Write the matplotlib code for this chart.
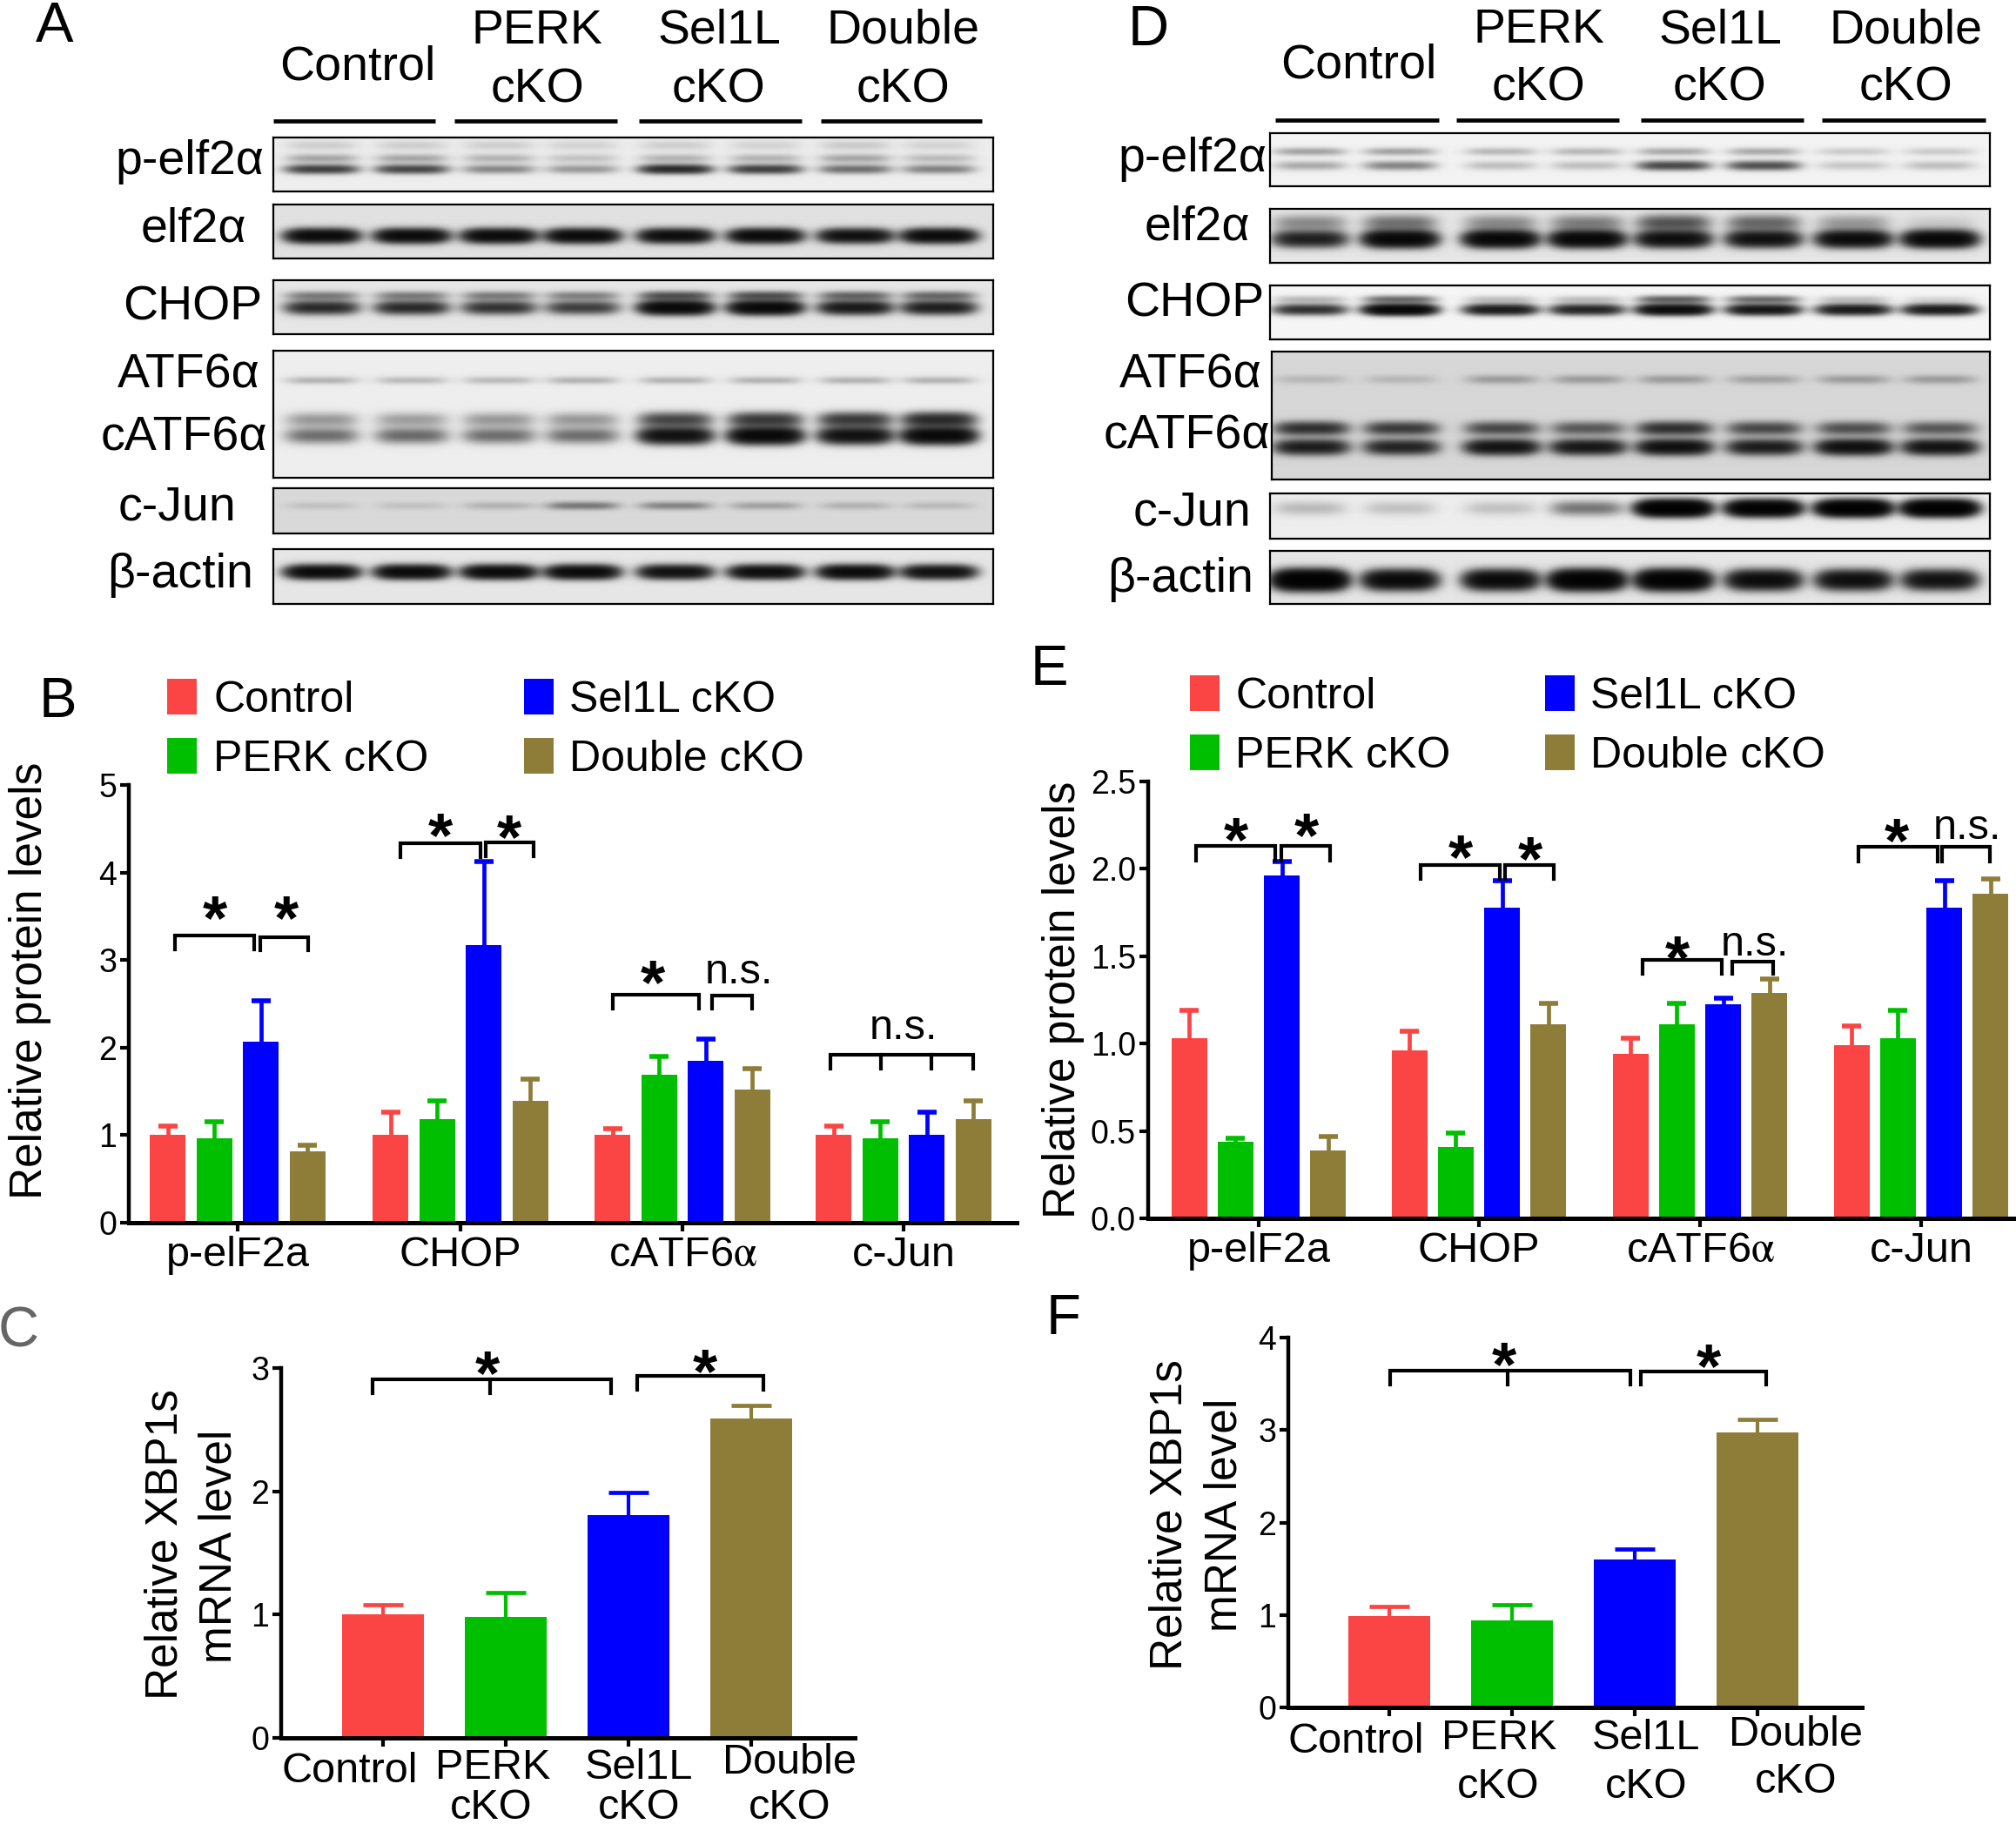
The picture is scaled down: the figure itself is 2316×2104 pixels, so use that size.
import numpy as np
import matplotlib
matplotlib.use('Agg')
import matplotlib.pyplot as plt
from matplotlib.patches import Rectangle

plt.rcParams['font.family'] = ['Liberation Sans', 'DejaVu Sans']
plt.rcParams['mathtext.fontset'] = 'stix'

W, H = 2316, 2104

# Bar data
genotypes = ['Control', 'PERK cKO', 'Sel1L cKO', 'Double cKO']
colors = ['#FB4444', '#00BF00', '#0000FF', '#8E7D39']
proteins = ['p-elF2a', 'CHOP', r'cATF6$\mathrm{\alpha}$', 'c-Jun']

b_means = [[1.00, 0.96, 2.07, 0.82],
           [1.00, 1.18, 3.17, 1.39],
           [1.00, 1.69, 1.85, 1.52],
           [1.00, 0.96, 1.00, 1.18]]
b_tops = [[1.10, 1.15, 2.53, 0.88],
          [1.26, 1.39, 4.13, 1.64],
          [1.07, 1.90, 2.10, 1.76],
          [1.10, 1.15, 1.26, 1.39]]

e_means = [[1.03, 0.44, 1.96, 0.39],
           [0.96, 0.41, 1.78, 1.11],
           [0.94, 1.11, 1.225, 1.29],
           [0.99, 1.03, 1.78, 1.86]]
e_tops = [[1.19, 0.46, 2.04, 0.47],
          [1.07, 0.49, 1.93, 1.23],
          [1.03, 1.23, 1.26, 1.37],
          [1.10, 1.19, 1.93, 1.94]]

c_means = [1.00, 0.98, 1.81, 2.59]
c_tops = [1.08, 1.18, 1.99, 2.70]
f_means = [0.99, 0.94, 1.60, 2.97]
f_tops = [1.09, 1.11, 1.71, 3.12]

# Blot band strengths, one value per lane
a_pelf_low = [.65, .60, .28, .22, .85, .65, .38, .30]
a_pelf_up = [.18, .18, .14, .10, .14, .14, .18, .12]
a_pelf_top = [.07, .07, .07, .06, .07, .06, .08, .06]
a_elf = [1.5, 1.5, 1.5, 1.5, 1.4, 1.5, 1.3, 1.5]
a_chop_main = [.85, .85, .75, .65, 1.6, 1.6, 1.1, 1.0]
a_chop_up = [.30, .30, .30, .28, .50, .50, .40, .38]
a_atf_top = [.14, .12, .12, .14, .14, .14, .14, .14]
a_atf_up = [.22, .20, .22, .22, .60, .70, .70, .85]
a_atf_low = [.38, .40, .38, .38, 1.3, 1.6, 1.3, 1.6]
a_jun = [.06, .06, .10, .30, .25, .15, .10, .08]
a_actin = [1.5, 1.5, 1.5, 1.5, 1.3, 1.4, 1.5, 1.3]

d_pelf_up = [.20, .20, .14, .14, .18, .18, .09, .09]
d_pelf_low = [.18, .30, .12, .12, .60, .55, .10, .12]
d_elf_main = [1.0, 1.7, 1.7, 1.7, 1.4, 1.3, 1.5, 1.7]
d_elf_up = [.25, .35, .25, .30, .50, .40, .20, .06]
d_chop_main = [.80, 1.7, 1.1, .95, 1.5, 1.2, 1.1, 1.1]
d_chop_up = [.14, .40, .12, .12, .45, .40, .12, .06]
d_atf_top = [.08, .08, .16, .16, .16, .14, .16, .16]
d_atf_up = [.75, .65, .55, .45, .75, .55, .50, .45]
d_atf_low = [1.0, .90, 1.2, 1.1, 1.3, 1.0, 1.3, 1.2]
d_jun = [.12, .10, .10, .35, 2.4, 2.2, 2.4, 2.4]
d_actin = [2.4, 1.6, 1.6, 2.2, 2.2, 1.5, 1.4, 1.3]

fig = plt.figure(figsize=(W / 100, H / 100), dpi=100)


def px_axes(left, top, right, bottom, **kw):
    return fig.add_axes([left / W, 1 - bottom / H, (right - left) / W, (bottom - top) / H], **kw)


# Overlay in image pixels for labels, brackets and legends
ov = px_axes(0, 0, W, H, zorder=10)
ov.set_xlim(0, W)
ov.set_ylim(H, 0)
ov.axis('off')
ov.patch.set_alpha(0)


def label(x, y, s, size=40, ha='center', va='center', **kw):
    # centred text sits a little high, nudge it down
    if va == 'center':
        y = y + 4
    ov.text(x, y, s, fontsize=size, ha=ha, va=va, **kw)


def vlabel(x, y, s):
    ov.text(x + 5, y, s, fontsize=37, ha='center', va='center', rotation=90)


def bracket(x0, x1, top, bottom, inner=()):
    ov.plot([x0, x0, x1, x1], [bottom, top, top, bottom], color='black', lw=3, solid_joinstyle='miter')
    for x in inner:
        ov.plot([x, x], [top, bottom], color='black', lw=3)


def star(x, y):
    label(x, y + 11, '*', size=52, weight='bold')


def draw_blot(box, bg, lanes, bands):
    left, top, right, bottom = box
    ax = px_axes(left, top, right, bottom)
    w, h = right - left, bottom - top
    xx, yy = np.meshgrid(np.arange(w), np.arange(h))
    dark = np.zeros((h, w))
    for yfrac, sigma, strengths in bands:
        for frac, s in zip(lanes, strengths):
            across = np.exp(-((xx - frac * w) / 40.0) ** 4)
            dark += s * across * np.exp(-((yy - yfrac * h) / sigma) ** 2 / 2)
    ax.imshow(bg * np.exp(-2.0 * dark), cmap='gray', vmin=0, vmax=1, aspect='auto', interpolation='bilinear')
    ax.set_xticks([])
    ax.set_yticks([])
    for sp in ax.spines.values():
        sp.set_linewidth(1.6)


lanes_a = [.067, .192, .313, .429, .558, .683, .808, .924]
lanes_d = [.055, .180, .320, .440, .560, .685, .810, .930]

draw_blot((314, 158, 1141, 220), .93, lanes_a, [(.58, 3.5, a_pelf_low), (.38, 3.5, a_pelf_up), (.14, 4, a_pelf_top)])
draw_blot((314, 235, 1141, 297), .88, lanes_a, [(.58, 5, a_elf)])
draw_blot((314, 322, 1141, 384), .90, lanes_a, [(.50, 5, a_chop_main), (.28, 3.5, a_chop_up)])
draw_blot((314, 403, 1141, 549), .93, lanes_a, [(.23, 3, a_atf_top), (.54, 5.5, a_atf_up), (.665, 6, a_atf_low)])
draw_blot((314, 561, 1141, 613), .85, lanes_a, [(.39, 3, a_jun)])
draw_blot((314, 631, 1141, 694), .90, lanes_a, [(.41, 5, a_actin)])

draw_blot((1459, 153, 2286, 214), .95, lanes_d, [(.35, 3, d_pelf_up), (.61, 3.5, d_pelf_low)])
draw_blot((1459, 240, 2286, 302), .90, lanes_d, [(.55, 6, d_elf_main), (.25, 6, d_elf_up)])
draw_blot((1459, 328, 2286, 390), .96, lanes_d, [(.44, 4, d_chop_main), (.25, 3, d_chop_up)])
draw_blot((1461, 404, 2286, 551), .84, lanes_d, [(.22, 3.5, d_atf_top), (.60, 5, d_atf_up), (.745, 5.5, d_atf_low)])
draw_blot((1459, 567, 2286, 619), .93, lanes_d, [(.33, 5.5, d_jun)])
draw_blot((1459, 633, 2286, 694), .90, lanes_d, [(.54, 7, d_actin)])

# Blot headers and underlines
header_lines = [('Control',), ('PERK', 'cKO'), ('Sel1L', 'cKO'), ('Double', 'cKO')]
for centers, ctrl_y, line_y, spans in [
        ([411, 617, 826, 1038], 74, 139, [(314, 500), (522, 709), (734, 921), (943, 1128)]),
        ([1561, 1768, 1976, 2189], 71, 138, [(1465, 1653), (1673, 1860), (1885, 2072), (2093, 2281)])]:
    for cx, lines, (x0, x1) in zip(centers, header_lines, spans):
        ov.plot([x0, x1], [line_y, line_y], color='black', lw=3.4, solid_capstyle='butt')
        if len(lines) == 1:
            label(cx, ctrl_y, lines[0])
        else:
            label(cx, line_y - 107, lines[0])
            label(cx, line_y - 40, lines[1])

# Blot row names
for x, y, s, ha in [(303, 182, 'p-elf2α', 'right'), (222, 260, 'elf2α', 'center'), (301, 349, 'CHOP', 'right'),
                    (299, 428, 'ATF6α', 'right'), (307, 499, 'cATF6α', 'right'), (204, 579, 'c-Jun', 'center'),
                    (207, 657, 'β-actin', 'center'),
                    (1455, 179, 'p-elf2α', 'right'), (1375, 258, 'elf2α', 'center'), (1452, 346, 'CHOP', 'right'),
                    (1450, 427, 'ATF6α', 'right'), (1459, 498, 'cATF6α', 'right'), (1370, 585, 'c-Jun', 'center'),
                    (1356, 662, 'β-actin', 'center')]:
    label(x, y, s, ha=ha)

# Panel letters
for x, y, s, col in [(63, 48, 'A', 'black'), (1319, 52, 'D', 'black'), (66, 824, 'B', 'black'),
                     (1205, 787, 'E', 'black'), (21, 1548, 'C', '#666666'), (1222, 1533, 'F', 'black')]:
    label(x, y, s, size=47, va='baseline', color=col)


def style_axes(ax, ymax, ticks, ticklabels, size=27):
    ax.set_ylim(0, ymax)
    ax.set_yticks(ticks)
    ax.set_yticklabels(ticklabels)
    ax.spines['top'].set_visible(False)
    ax.spines['right'].set_visible(False)
    ax.spines['left'].set_linewidth(3.2)
    ax.spines['bottom'].set_linewidth(3.6)
    ax.tick_params(axis='y', length=7, width=3, labelsize=size, pad=3)
    ax.tick_params(axis='x', length=7, width=3, labelsize=35, pad=4)
    ax.patch.set_alpha(0)


def upper_error(ax, x, m, t, col, lw, cap, thick):
    eb = ax.errorbar(x, m, yerr=[[0], [t - m]], color=col, elinewidth=lw, capsize=cap, capthick=thick)
    eb[1][0].set_visible(False)


def grouped(left, top, right, bottom, group_x, step, means, tops, ymax, ticks, ticklabels):
    ax = px_axes(left, top, right, bottom)
    ax.set_xlim(left, right)
    ax.set_xticks(group_x)
    ax.set_xticklabels(proteins)
    for cx, m, t in zip(group_x, means, tops):
        for i in range(4):
            x = cx + (i - 1.5) * step
            ax.bar(x, m[i], width=41, color=colors[i])
            upper_error(ax, x, m[i], t[i], colors[i], 3.4, 7.6, 4)
    style_axes(ax, ymax, ticks, ticklabels)
    return ax


def single(left, top, right, bottom, means, tops, group_x, ymax, ticks):
    ax = px_axes(left, top, right, bottom)
    ax.set_xlim(left, right)
    ax.bar(group_x, means, width=94, color=colors)
    for x, m, t, col in zip(group_x, means, tops, colors):
        upper_error(ax, x, m, t, col, 3, 16.5, 3.4)
    ax.set_xticks(group_x)
    ax.set_xticklabels([])
    style_axes(ax, ymax, ticks, [str(t) for t in ticks])
    return ax


grouped(148, 902, 1168, 1405, [273, 529, 784, 1038], 53.5, b_means, b_tops, 5,
        [0, 1, 2, 3, 4, 5], ['0', '1', '2', '3', '4', '5'])
grouped(1319, 898, 2316, 1400, [1446, 1699, 1953, 2207], 53.2, e_means, e_tops, 2.5,
        [0, .5, 1, 1.5, 2, 2.5], ['0.0', '0.5', '1.0', '1.5', '2.0', '2.5'])
single(323, 1572, 982, 1997, c_means, c_tops, [440, 581, 722, 863], 3, [0, 1, 2, 3])
single(1480, 1537, 2139, 1962, f_means, f_tops, [1596, 1737, 1878, 2019], 4, [0, 1, 2, 3, 4])

# Legends
for sw_x, txt_x, rows in [((192, 602), (245, 654), (780, 848)), ((1367, 1775), (1419, 1827), (776, 844))]:
    for j, name in enumerate(genotypes):
        col_i, row_i = j // 2, j % 2
        ov.add_patch(Rectangle((sw_x[col_i], rows[row_i]), 34, 41, color=colors[j], lw=0))
        label(txt_x[col_i], rows[row_i] + 21, name, size=36, ha='left')

# Axis titles
vlabel(30, 1127, 'Relative protein levels')
vlabel(1216, 1149, 'Relative protein levels')
vlabel(185, 1775, 'Relative XBP1s')
vlabel(247, 1777, 'mRNA level')
vlabel(1339, 1741, 'Relative XBP1s')
vlabel(1402, 1741, 'mRNA level')

# Significance marks, panel B
bracket(201, 292, 1075, 1091)
bracket(299, 354, 1077, 1092)
star(247, 1045)
star(329, 1045)
bracket(460, 552, 969, 985)
bracket(558, 613, 968, 984)
star(506, 950)
star(585, 952)
bracket(704, 803, 1143, 1159)
bracket(818, 864, 1144, 1159)
star(750, 1119)
label(849, 1113, 'n.s.', size=35)
bracket(954, 1118, 1212, 1228, inner=(1012, 1070))
label(1038, 1178, 'n.s.', size=35)

# Panel E
bracket(1374, 1465, 972, 989)
bracket(1472, 1528, 972, 989)
star(1420, 955)
star(1501, 950)
bracket(1632, 1723, 994, 1010)
bracket(1729, 1785, 994, 1010)
star(1678, 975)
star(1758, 977)
bracket(1887, 1978, 1103, 1119)
bracket(1990, 2037, 1105, 1119)
star(1927, 1091)
label(2016, 1081, 'n.s.', size=35)
bracket(2135, 2226, 973, 990)
bracket(2231, 2286, 973, 990)
star(2179, 956)
label(2260, 948, 'n.s.', size=35)

# Panels C and F
bracket(428, 702, 1585, 1601, inner=(563,))
bracket(732, 877, 1581, 1597)
star(560, 1568)
star(810, 1566)
bracket(1597, 1873, 1575, 1591, inner=(1732,))
bracket(1885, 2029, 1576, 1591)
star(1728, 1558)
star(1963, 1560)

# Offset category labels under C and F
for x, y, s in [(402, 2031, 'Control'), (566, 2027, 'PERK'), (564, 2074, 'cKO'), (734, 2027, 'Sel1L'),
                (734, 2074, 'cKO'), (907, 2022, 'Double'), (907, 2074, 'cKO'),
                (1558, 1997, 'Control'), (1722, 1993, 'PERK'), (1721, 2050, 'cKO'), (1891, 1993, 'Sel1L'),
                (1891, 2050, 'cKO'), (2063, 1989, 'Double'), (2063, 2043, 'cKO')]:
    label(x, y, s, size=35)

fig.savefig('out.png', dpi=100)
